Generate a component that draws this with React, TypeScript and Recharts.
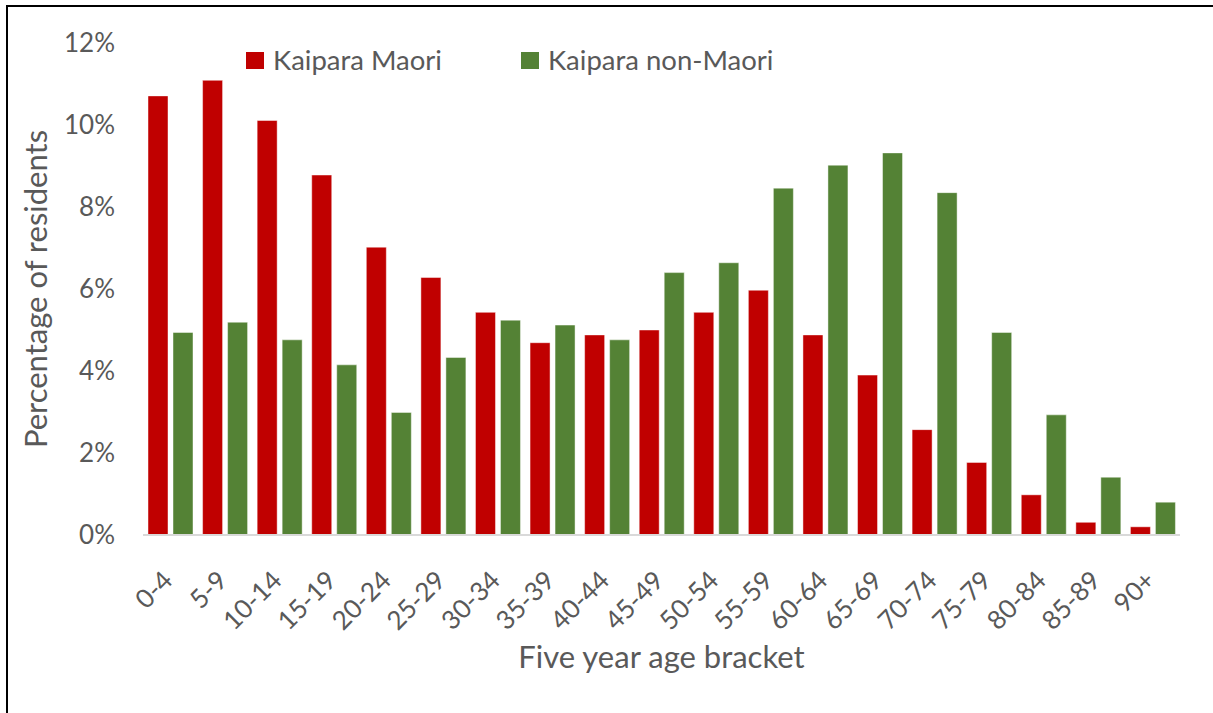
import { Bar, BarChart, Label, XAxis, YAxis } from "recharts"

const ageBrackets = [
  "0-4", "5-9", "10-14", "15-19", "20-24", "25-29", "30-34", "35-39", "40-44", "45-49",
  "50-54", "55-59", "60-64", "65-69", "70-74", "75-79", "80-84", "85-89", "90+",
]
const kaiparaMaori = [
  10.71, 11.09, 10.11, 8.78, 7.02, 6.28, 5.43, 4.69, 4.88, 5.0,
  5.43, 5.97, 4.88, 3.9, 2.57, 1.77, 0.98, 0.31, 0.2,
]
const kaiparaNonMaori = [
  4.94, 5.19, 4.76, 4.15, 2.99, 4.33, 5.24, 5.12, 4.76, 6.4,
  6.64, 8.46, 9.02, 9.32, 8.35, 4.94, 2.93, 1.41, 0.8,
]
const yTicks = [0, 2, 4, 6, 8, 10, 12]

const series = [
  { key: "maori", name: "Kaipara Maori", color: "#C00000" },
  { key: "nonMaori", name: "Kaipara non-Maori", color: "#548235" },
]

const data = ageBrackets.map((age, i) => ({
  age,
  maori: kaiparaMaori[i],
  nonMaori: kaiparaNonMaori[i],
}))

const FONT = "Lato, 'Open Sans', sans-serif"
const TEXT = "#595959"

function AgeTick(props: any) {
  const { x, y, payload } = props
  return (
    <g transform={`translate(${x + 4},${y + 39})`}>
      <text textAnchor="end" transform="rotate(-45)" fill={TEXT} fontSize={26} fontFamily={FONT}>
        {payload.value}
      </text>
    </g>
  )
}

export default function App() {
  return (
    <div style={{ position: "absolute", left: 0, top: 0, width: 1213, height: 713, background: "#fff" }}>
      <div style={{ position: "absolute", left: 6, top: 5, right: 0, bottom: 0, borderLeft: "2px solid #000", borderTop: "2px solid #000" }} />
      <BarChart
        width={1213}
        height={713}
        data={data}
        margin={{ top: 43, right: 33, bottom: 98, left: 83 }}
        barGap={5}
        barSize={20}
      >
        <XAxis
          dataKey="age"
          height={80}
          interval={0}
          tickLine={false}
          axisLine={{ stroke: "#d9d9d9", strokeWidth: 2 }}
          tick={<AgeTick />}
        >
          <Label
            content={({ viewBox }: any) => (
              <text
                x={viewBox.x + viewBox.width / 2}
                y={viewBox.y + 133}
                textAnchor="middle"
                fill={TEXT}
                fontSize={31}
                fontFamily={FONT}
              >
                Five year age bracket
              </text>
            )}
          />
        </XAxis>
        <YAxis
          width={60}
          domain={[0, 12]}
          ticks={yTicks}
          tickFormatter={(v) => `${v}%`}
          axisLine={false}
          tickLine={false}
          tickSize={0}
          tickMargin={28}
          tick={{ fill: TEXT, fontSize: 26, fontFamily: FONT }}
        >
          <Label
            content={({ viewBox }: any) => {
              const cx = viewBox.x - 36
              const cy = viewBox.y + viewBox.height / 2
              return (
                <text
                  x={cx}
                  y={cy}
                  textAnchor="middle"
                  transform={`rotate(-90, ${cx}, ${cy})`}
                  fill={TEXT}
                  fontSize={31}
                  fontFamily={FONT}
                >
                  Percentage of residents
                </text>
              )
            }}
          />
        </YAxis>
        {series.map((s) => (
          <Bar
            key={s.key}
            dataKey={s.key}
            name={s.name}
            fill={s.color}
            stroke="#ffffff"
            strokeOpacity={0.45}
            isAnimationActive={false}
          />
        ))}
      </BarChart>
      <div
        style={{
          position: "absolute",
          left: 246,
          top: 42,
          display: "flex",
          fontFamily: FONT,
          fontSize: 27.5,
          color: TEXT,
        }}
      >
        {series.map((s, i) => (
          <div key={s.key} style={{ display: "flex", alignItems: "center", marginLeft: i === 0 ? 0 : 79 }}>
            <span style={{ width: 18, height: 17, background: s.color, marginRight: 9, display: "inline-block" }} />
            <span style={{ lineHeight: "36px" }}>{s.name}</span>
          </div>
        ))}
      </div>
    </div>
  )
}
